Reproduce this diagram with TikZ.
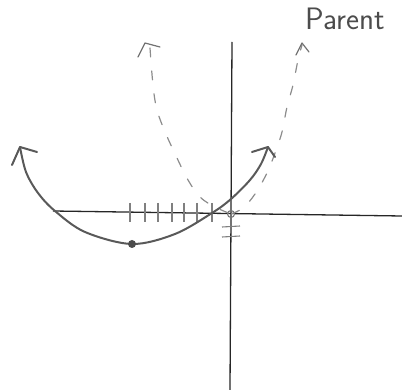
\documentclass[tikz,border=0pt]{standalone}
\usepackage{fontspec}
\begin{document}
\begin{tikzpicture}[x=1pt,y=-1pt,
  axis/.style={line width=1.3pt,draw=black!85},
  curve/.style={line width=2pt,draw=black!65,line cap=round,line join=round},
  parent/.style={line width=1.2pt,draw=black!45,dash pattern=on 9pt off 14pt,line cap=round},
  hat/.style={line width=1.2pt,draw=black!55,line cap=round,line join=round},
  tick/.style={line width=1.1pt,draw=black!50},
  lbl/.style={font=\sffamily\fontsize{31}{31}\selectfont,text=black!70,inner sep=0pt}]
\useasboundingbox (0,0) rectangle (402,390);
% axes
\coordinate (xl) at (53,211); \coordinate (xr) at (402,216);
\coordinate (yt) at (232,42); \coordinate (yb) at (230,390);
\draw[axis] (xl) -- (xr);
\draw[axis] (yt) -- (yb);
% ticks on x-axis
\foreach \t in {130,145,158,172,184,197,212}
  \draw[tick] (\t,203) -- (\t,222);
% marks under origin
\coordinate (e1a) at (222,227); \coordinate (e1b) at (240,226);
\coordinate (e2a) at (222,237); \coordinate (e2b) at (240,236);
\draw[tick] (e1a) -- (e1b);
\draw[tick] (e2a) -- (e2b);
% origin
\coordinate (O) at (231,214);
\draw[line width=1pt,draw=black!55] (O) circle (3.5);
% parent (dashed)
\draw[parent] plot[smooth,tension=0.6] coordinates {(150,48) (153,85) (157,110) (166,134) (177,158) (188,180) (200,197) (215,207) (231,214)};
\draw[parent] plot[smooth,tension=0.6] coordinates {(231,214) (243,208) (255,194) (267,173) (275,153) (282,132) (287,107) (293,85) (298,60) (302,45)};
\coordinate (pl) at (145,43);
\coordinate (pr) at (302,43);
\draw[hat] (138,57) -- (pl) -- (160,47);
\draw[hat] (296,55) -- (pr) -- (309,52);
% transformed parabola (solid)
\coordinate (tl) at (20,147); \coordinate (tr) at (268,147);
\coordinate (V) at (132,244);
\draw[curve] plot[smooth,tension=0.55] coordinates {(tl) (26,172) (38,193) (55,211) (85,232) (V) (175,234) (212,213) (231,199) (250,180) (261,164) (tr)};
\draw[curve] (12,165) -- (tl) -- (37,152);
\draw[curve] (252,152) -- (tr) -- (275,157);
\fill[black!70] (V) circle (4);
% label
\node[lbl,anchor=base west] (parentlbl) at (305,30) {Parent};
\end{tikzpicture}
\end{document}
